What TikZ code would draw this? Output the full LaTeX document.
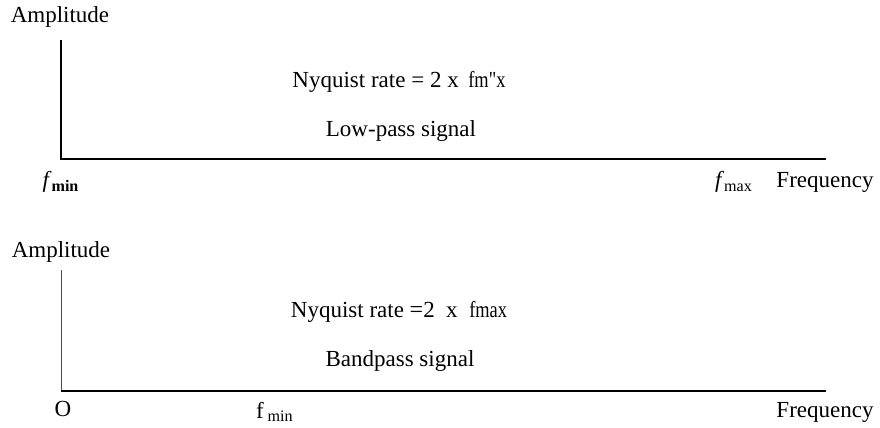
\documentclass[tikz,border=0pt]{standalone}
\usepackage{fontspec}
\setmainfont{Liberation Serif}
\newfontface\rawserif[Ligatures=TeXOff]{Liberation Serif}
\usepackage{tikz}
\usetikzlibrary{positioning}

\begin{document}
\begin{tikzpicture}[x=0.5pt, y=-0.5pt, font=\fontsize{11.5}{13}\selectfont]
    \useasboundingbox (0,0) rectangle (880,428);
    % low-pass spectrum
    \coordinate (lpTop) at (61,40);
    \coordinate (lpO) at (61,159);
    \coordinate (lpEnd) at (826,159);
    \draw[line width=1pt] (lpTop) -- (lpO) -- (lpEnd);
    \node (lpAmp) at (60,17) {Amplitude};
    \node (lpRate) at (399,82) {Nyquist rate = 2 x\, \scalebox{0.8}[1]{fm{\rawserif"}x}};
    \node (lpName) at (401,131) {Low-pass signal};
    \node (lpMin) at (61,182) {\textit{f}\textsubscript{\bfseries min}};
    \node (lpMax) at (734,182) {\textit{f}\textsubscript{max}};
    \node (lpFreq) at (825,182) {Frequency};
    % bandpass spectrum
    \coordinate (bpTop) at (61,270);
    \coordinate (bpO) at (61,391);
    \coordinate (bpEnd) at (826,391);
    \draw[line width=0.5pt, black!70] (bpTop) -- (bpO);
    \draw[line width=1pt] (bpO) -- (bpEnd);
    \node (bpAmp) at (61,252) {Amplitude};
    \node (bpRate) at (399,312) {Nyquist rate {\large =}2\ \ x\ \ \scalebox{0.8}[1]{fmax}};
    \node (bpName) at (400,361) {Bandpass signal};
    \node (bpZero) at (63,409) {O};
    \node (bpMin) at (275,412) {f\,\textsubscript{min}};
    \node (bpFreq) at (825,412) {Frequency};
\end{tikzpicture}
\end{document}
